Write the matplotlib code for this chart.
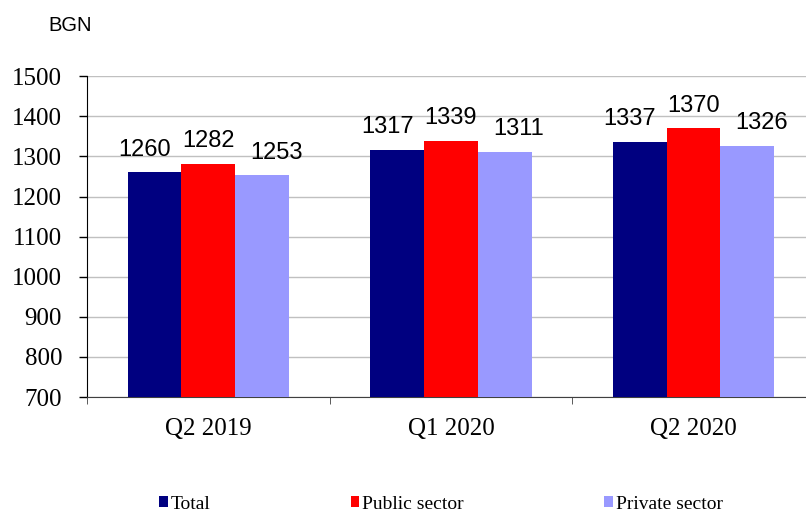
import matplotlib.pyplot as plt
import numpy as np
from matplotlib.patches import Patch

# Data
quarters = ['Q2 2019', 'Q1 2020', 'Q2 2020']
series_names = ['Total', 'Public sector', 'Private sector']
total = [1260, 1317, 1337]
public = [1282, 1339, 1370]
private = [1253, 1311, 1326]
colors = ['#000080', '#FF0000', '#9999FF']

serif = ['Liberation Serif', 'DejaVu Serif']
sans = ['Liberation Sans', 'DejaVu Sans']

fig = plt.figure(figsize=(8.06, 5.15), dpi=100)
ax = fig.add_axes([0.108, 0.229, 0.903, 0.623])

x = np.arange(len(quarters))
width = 0.222
# labels are nudged sideways a bit so they don't collide
label_shift = [-7, 0, 10]
for i, (vals, col) in enumerate(zip([total, public, private], colors)):
    pos = x + (i - 1) * width
    ax.bar(pos, vals, width, color=col, zorder=3)
    for xp, v in zip(pos, vals):
        ax.annotate(f'{v}', (xp, v), xytext=(label_shift[i], 12),
                    textcoords='offset points', ha='center', va='baseline',
                    fontsize=17, family=sans)

ax.set_ylim(700, 1500)
ax.set_xlim(-0.5, len(quarters) - 0.5)
ax.set_yticks(np.arange(700, 1501, 100))
ax.yaxis.grid(True, color='#c0c0c0', linewidth=1, zorder=0)
ax.set_xticks(x)
ax.set_xticklabels(quarters, family=serif, fontsize=18)
ax.set_xticks(np.arange(-0.5, len(quarters)), minor=True)
ax.tick_params(axis='x', which='major', length=0, pad=15)
ax.tick_params(axis='x', which='minor', length=5, color='#404040')
ax.tick_params(axis='y', length=6, width=1, pad=12)
for lab in ax.get_yticklabels():
    lab.set_family(serif)
    lab.set_fontsize(18)

for s in ['top', 'right']:
    ax.spines[s].set_visible(False)
ax.spines['left'].set_color('black')
ax.spines['bottom'].set_color('#404040')

fig.text(0.06, 0.951, 'BGN', family=sans, fontsize=14.5, va='center')

handles = [Patch(facecolor=c, edgecolor='none') for c in colors]
fig.legend(handles, series_names, loc='center', bbox_to_anchor=(0.547, 0.021),
           ncol=3, frameon=False, prop={'family': serif, 'size': 14},
           handlelength=0.46, handleheight=0.52, handletextpad=0.15,
           columnspacing=7.2, borderaxespad=0, borderpad=0)

fig.savefig('out.png', dpi=100)
